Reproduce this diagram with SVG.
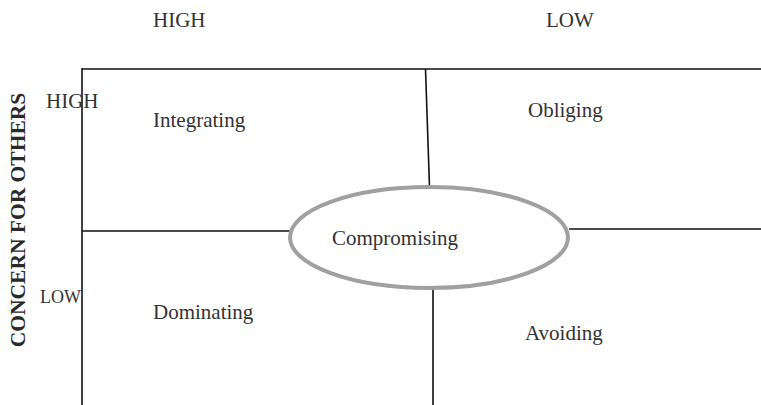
<svg xmlns="http://www.w3.org/2000/svg" width="761" height="405" viewBox="0 0 761 405">
<style>
text{font-family:"Liberation Serif","Times New Roman",serif;fill:#333;font-size:21px}
.ln{stroke:#111;stroke-width:1.6;fill:none}
.b{font-weight:bold;fill:#2a2a2a}
</style>
<rect width="761" height="405" fill="#fff"/>
<g id="connectors">
<line class="ln" x1="82" y1="69" x2="761" y2="69"/>
<line class="ln" x1="82" y1="68" x2="82" y2="405"/>
<line class="ln" x1="425.5" y1="69" x2="429.5" y2="187"/>
<line class="ln" x1="82" y1="231" x2="290" y2="231"/>
<line class="ln" x1="569" y1="229" x2="761" y2="229"/>
<line class="ln" x1="433" y1="289" x2="433" y2="405"/>
</g>
<g id="axis-labels">
<text x="153" y="27">HIGH</text>
<text x="546" y="27">LOW</text>
<text x="46" y="108">HIGH</text>
<text x="40" y="303" style="font-size:18px">LOW</text>
<text class="b" transform="translate(25 220) rotate(-90)" text-anchor="middle" style="font-size:21.5px">CONCERN FOR OTHERS</text>
</g>
<g id="integrating"><text x="153" y="127">Integrating</text></g>
<g id="obliging"><text x="528" y="117">Obliging</text></g>
<g id="dominating"><text x="153" y="319">Dominating</text></g>
<g id="avoiding"><text x="525" y="340">Avoiding</text></g>
<g id="compromising">
<ellipse cx="429" cy="237.5" rx="139" ry="50.5" fill="#fff" stroke="#a0a0a0" stroke-width="4"/>
<text x="332" y="245">Compromising</text>
</g>
</svg>
